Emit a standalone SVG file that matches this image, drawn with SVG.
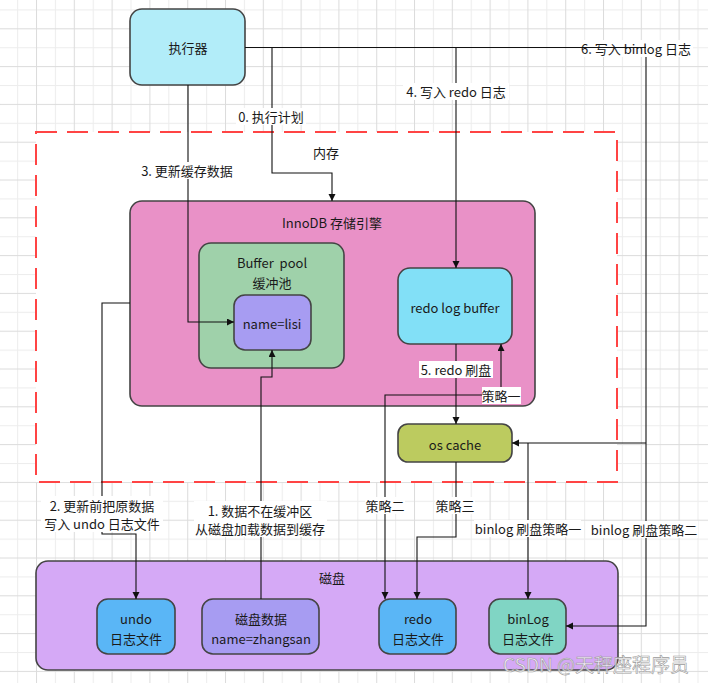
<svg xmlns="http://www.w3.org/2000/svg" width="708" height="683" viewBox="0 0 708 683">
<style>
text{font-family:"Noto Sans CJK SC","Noto Sans",sans-serif;font-size:13px;fill:#1a1a1a;text-anchor:middle;dominant-baseline:central}
.node{stroke:#444;stroke-width:1.6}
.edge{fill:none;stroke:#111;stroke-width:1.1}
.arr{marker-end:url(#ah)}
.lbg{fill:#fff}
</style>
<defs>
<pattern id="grid" patternUnits="userSpaceOnUse" x="36" y="28.3" width="37.8" height="37.8">
<rect width="37.8" height="37.8" fill="#fff"/>
<rect x="18.9" y="0" width="1" height="37.8" fill="#ededed"/>
<rect x="0" y="18.9" width="37.8" height="1" fill="#ededed"/>
<rect x="0" y="0" width="1" height="37.8" fill="#dcdcdc"/>
<rect x="0" y="0" width="37.8" height="1" fill="#dcdcdc"/>
</pattern>
<marker id="ah" markerUnits="userSpaceOnUse" markerWidth="8" markerHeight="8" refX="7" refY="3.5" orient="auto">
<path d="M0,0 L7,3.5 L0,7 z" fill="#111"/>
</marker>
</defs>
<rect width="708" height="683" fill="url(#grid)"/>
<g id="memory">
<rect x="36" y="132" width="581" height="350" fill="#fff" stroke="#f44" stroke-width="2" stroke-dasharray="21 10"/>
<text x="326" y="152">内存</text>
</g>
<g id="executor">
<rect class="node" x="130" y="9" width="115" height="76" rx="12" fill="#b2edf9"/>
<text x="188" y="47">执行器</text>
</g>
<g id="innodb">
<rect class="node" x="130" y="201" width="405" height="205" rx="12" fill="#e991c7"/>
<text x="332" y="222">InnoDB 存储引擎</text>
</g>
<g id="bufferpool">
<rect class="node" x="199" y="243" width="145" height="125" rx="12" fill="#9fd1aa"/>
<text x="272" y="262" xml:space="preserve">Buffer  pool</text>
<text x="272" y="282">缓冲池</text>
</g>
<g id="lisi">
<rect class="node" x="234" y="295" width="77" height="55" rx="11" fill="#a79cf2"/>
<text x="272" y="323">name=lisi</text>
</g>
<g id="redobuffer">
<rect class="node" x="398" y="268" width="114" height="76" rx="12" fill="#82e0f7"/>
<text x="455" y="307">redo log buffer</text>
</g>
<g id="oscache">
<rect class="node" x="398" y="424" width="114" height="38" rx="10" fill="#bccb5f"/>
<text x="455" y="444">os cache</text>
</g>
<g id="disk">
<rect class="node" x="36" y="561" width="582" height="109" rx="12" fill="#d5a9f6"/>
<text x="332" y="577">磁盘</text>
</g>
<g id="undo">
<rect class="node" x="97" y="599" width="78" height="55" rx="11" fill="#5ab6f6"/>
<text x="136" y="618">undo</text>
<text x="136" y="638">日志文件</text>
</g>
<g id="diskdata">
<rect class="node" x="202" y="599" width="117" height="55" rx="11" fill="#a79cf2"/>
<text x="261" y="618">磁盘数据</text>
<text x="261" y="638">name=zhangsan</text>
</g>
<g id="redofile">
<rect class="node" x="379" y="599" width="77" height="55" rx="11" fill="#5ab6f6"/>
<text x="418" y="618">redo</text>
<text x="418" y="638">日志文件</text>
</g>
<g id="binlogfile">
<rect class="node" x="489" y="599" width="77" height="55" rx="11" fill="#80d5c4"/>
<text x="528" y="618">binLog</text>
<text x="528" y="638">日志文件</text>
</g>
<g id="connectors">
<path class="edge arr" d="M456,47.5 V268"/>
<path class="edge arr" d="M272,47.5 V173 H332 V201"/>
<path class="edge arr" d="M646,47.5 V626 H566"/>
<path class="edge arr" d="M646,443 H512"/>
<path class="edge arr" d="M528,443 V599"/>
<path class="edge arr" d="M188,85 V322 H234"/>
<path class="edge arr" d="M130,303 H102 V534 H136 V599"/>
<path class="edge arr" d="M261,599 V377 H272 V350"/>
<path class="edge arr" d="M456,344 V424"/>
<path class="edge arr" d="M501,395 V344"/>
<path class="edge arr" d="M501,395 H385 V599"/>
<path class="edge arr" d="M456,462 V537 H417 V599"/>
<rect class="lbg" x="236" y="108" width="70" height="17"/>
<text x="271" y="116">0. 执行计划</text>
<rect class="lbg" x="140" y="162" width="94" height="17"/>
<text x="187" y="170">3. 更新缓存数据</text>
<rect class="lbg" x="403" y="83" width="106" height="17"/>
<text x="456" y="91">4. 写入 redo 日志</text>
<rect class="lbg" x="580" y="40" width="113" height="17"/>
<text x="636" y="48">6. 写入 binlog 日志</text>
<rect class="lbg" x="419" y="361" width="74" height="17"/>
<text x="456" y="369">5. redo 刷盘</text>
<rect class="lbg" x="482" y="387" width="39" height="17"/>
<text x="501" y="395">策略一</text>
<rect class="lbg" x="365" y="497" width="40" height="17"/>
<text x="385" y="505">策略二</text>
<rect class="lbg" x="435" y="497" width="40" height="17"/>
<text x="455" y="505">策略三</text>
<rect class="lbg" x="474" y="520" width="107" height="17"/>
<text x="528" y="528">binlog 刷盘策略一</text>
<rect class="lbg" x="590" y="521" width="108" height="17"/>
<text x="644" y="529">binlog 刷盘策略二</text>
<rect class="lbg" x="41" y="496" width="122" height="36"/>
<text x="102" y="505">2. 更新前把原数据</text>
<text x="102" y="523">写入 undo 日志文件</text>
<rect class="lbg" x="194" y="501" width="133" height="36"/>
<text x="260" y="510">1. 数据不在缓冲区</text>
<text x="260" y="528">从磁盘加载数据到缓存</text>
<path class="edge" d="M245,47.5 H646"/>
</g>
<text x="596" y="663" style="font-size:19px;fill:#fff;fill-opacity:0.75;stroke:#9a9a9a;stroke-width:0.6">CSDN @天秤座程序员</text>
</svg>
